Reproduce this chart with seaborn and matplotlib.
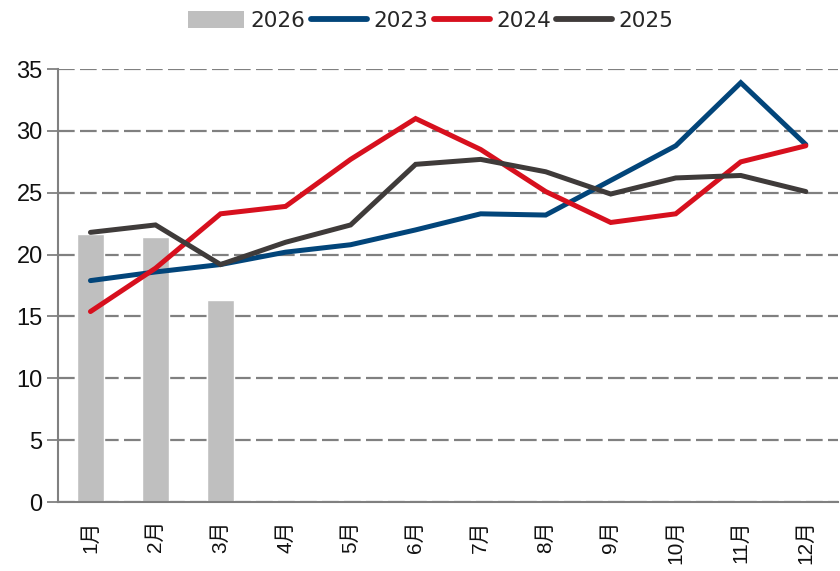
import matplotlib
matplotlib.use("Agg")
import matplotlib.pyplot as plt
import seaborn as sns
import pandas as pd
import numpy as np
from matplotlib.lines import Line2D
from matplotlib.patches import Patch

months = ["1月", "2月", "3月", "4月", "5月", "6月", "7月", "8月", "9月", "10月", "11月", "12月"]
v2026 = [21.7, 21.4, 16.3]
v2023 = [17.9, 18.6, 19.2, 20.2, 20.8, 22.0, 23.3, 23.2, 26.0, 28.8, 33.9, 28.9]
v2024 = [15.4, 18.9, 23.3, 23.9, 27.7, 31.0, 28.5, 25.1, 22.6, 23.3, 27.5, 28.8]
v2025 = [21.8, 22.4, 19.2, 21.0, 22.4, 27.3, 27.7, 26.7, 24.9, 26.2, 26.4, 25.1]
yticks = [0, 5, 10, 15, 20, 25, 30, 35]

sns.set_theme(style="white")
plt.rcParams["font.family"] = ["Liberation Sans", "Noto Sans CJK SC", "DejaVu Sans"]

colors = {"2023": "#02457A", "2024": "#D7101E", "2025": "#3F3B3A"}
bar_color = "#BFBFBF"

fig = plt.figure(figsize=(8.4, 5.71), dpi=100)
ax = fig.add_axes([0.069, 0.1208, 0.929, 0.7582])

bar_df = pd.DataFrame({"month": months[:len(v2026)], "value": v2026})
sns.barplot(data=bar_df, x="month", y="value", order=months, color=bar_color,
            width=0.42, ax=ax, saturation=1)

line_df = pd.concat([
    pd.DataFrame({"x": np.arange(len(months)), "value": v, "year": y})
    for y, v in [("2023", v2023), ("2024", v2024), ("2025", v2025)]
])
sns.lineplot(data=line_df, x="x", y="value", hue="year", palette=colors,
             linewidth=3.6, ax=ax, legend=False)
for ln in ax.lines:
    ln.set_solid_capstyle("round")
    ln.set_solid_joinstyle("miter")

ax.set_xlim(-0.5, 11.5)
ax.set_ylim(0, 35)
ax.set_yticks(yticks)
ax.set_yticklabels([str(t) for t in yticks], fontsize=17, color="#111111")
ax.set_xticks(np.arange(len(months)))
ax.set_xticklabels(months, rotation=90, fontsize=15, color="#111111")
ax.set_xticks(np.arange(len(months) + 1) - 0.5, minor=True)
ax.tick_params(axis="x", which="major", length=0, pad=13)
ax.tick_params(axis="x", which="minor", length=8, width=1.3, color="#808080", direction="out")
ax.tick_params(axis="y", length=8, width=1.3, color="#808080", direction="out", left=True, pad=3)
ax.set_xlabel("")
ax.set_ylabel("")

ax.yaxis.grid(True, linestyle=(0, (7.5, 2.4)), color="#808080", linewidth=1.6)
ax.set_axisbelow(True)
for s in ["top", "right"]:
    ax.spines[s].set_visible(False)
for s in ["left", "bottom"]:
    ax.spines[s].set_color("#808080")
    ax.spines[s].set_linewidth(1.5)
ax.set_facecolor("white")

handles = [
    Patch(facecolor=bar_color, edgecolor="none", label="2026"),
    Line2D([], [], color=colors["2023"], linewidth=4.2, solid_capstyle="round", label="2023"),
    Line2D([], [], color=colors["2024"], linewidth=4.2, solid_capstyle="round", label="2024"),
    Line2D([], [], color=colors["2025"], linewidth=4.2, solid_capstyle="round", label="2025"),
]
fig.legend(handles=handles, loc="center", bbox_to_anchor=(0.513, 0.963), ncol=4,
           frameon=False, handlelength=2.6, handletextpad=0.3,
           columnspacing=0.25, handleheight=0.85,
           prop={"family": ["DejaVu Sans"], "size": 15.5})

fig.savefig("out.png", dpi=100, facecolor="white")
